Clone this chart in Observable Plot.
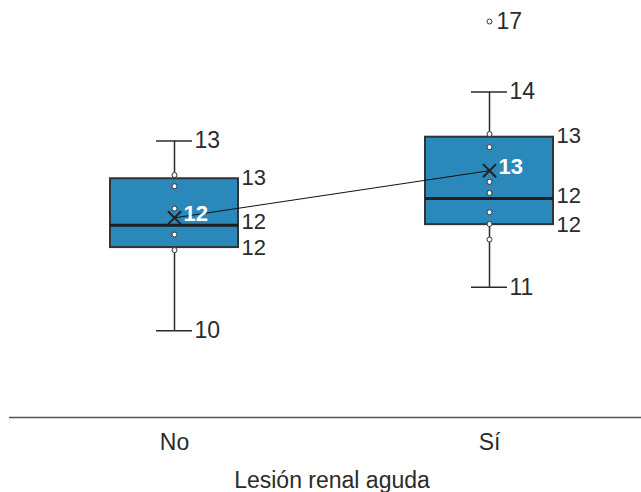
<!DOCTYPE html>
<html>
<head>
<meta charset="utf-8">
<script src="https://cdn.jsdelivr.net/npm/d3@7"></script>
<script src="https://cdn.jsdelivr.net/npm/@observablehq/plot@0.6"></script>
<style>
  html, body { margin: 0; padding: 0; background: #fff; }
  svg { display: block; }
</style>
</head>
<body>
<div id="chart"></div>
<script>
// Categories
const categories = ["No", "Sí"];
// Box statistics per category
const whiskerLow  = [10.24, 10.94];
const q1          = [11.58, 11.95];
const median      = [11.94, 12.37];
const q3          = [12.69, 13.36];
const whiskerHigh = [13.30, 14.09];
const means       = [12.06, 12.82];
// Individual points shown along each box
const pointsNo = [12.75, 12.57, 12.21, 11.79, 11.54];
const pointsSi = [13.41, 13.20, 12.64, 12.46, 12.15, 11.96, 11.71];
// Outliers
const outlierCat = ["Sí"];
const outlierVal = [17];
// Axis title
const xTitle = "Lesión renal aguda";

const boxes = categories.map((c, i) => ({
  cat: c, lo: whiskerLow[i], q1: q1[i], med: median[i], q3: q3[i], hi: whiskerHigh[i], mean: means[i]
}));
const points = [
  ...pointsNo.map(v => ({cat: "No", v})),
  ...pointsSi.map(v => ({cat: "Sí", v}))
];
const outliers = outlierCat.map((c, i) => ({cat: c, v: outlierVal[i]}));
const fmt = d3.format(".0f");

const FONT = "Liberation Sans, Arial, Helvetica, sans-serif";
const boxFill = "#2b88ba";
const ink = "#2b2b2b";

const plot = Plot.plot({
  width: 641,
  height: 492,
  marginLeft: 9,
  marginRight: 0,
  marginTop: 0,
  marginBottom: 75,
  style: {fontFamily: FONT, background: "#fff", color: ink},
  x: {type: "band", domain: categories, range: [110, 553], paddingInner: 0.5937, paddingOuter: 0, label: null},
  y: {type: "linear", domain: [8.84, 15, 17], range: [417, 35, 21], axis: null},
  marks: [
    // axis baseline
    Plot.ruleY([0], {y: () => 8.84, stroke: "#555", strokeWidth: 1.5}),
    // whiskers
    Plot.ruleX(boxes, {x: "cat", y1: "q3", y2: "hi", stroke: ink, strokeWidth: 1.5}),
    Plot.ruleX(boxes, {x: "cat", y1: "lo", y2: "q1", stroke: ink, strokeWidth: 1.5}),
    Plot.tickY(boxes, {x: "cat", y: "hi", stroke: ink, strokeWidth: 1.5, insetLeft: 46, insetRight: 46}),
    Plot.tickY(boxes, {x: "cat", y: "lo", stroke: ink, strokeWidth: 1.5, insetLeft: 46, insetRight: 46}),
    // boxes
    Plot.barY(boxes, {x: "cat", y1: "q1", y2: "q3", fill: boxFill, stroke: "#333", strokeWidth: 2}),
    Plot.tickY(boxes, {x: "cat", y: "med", stroke: "#1e1e1e", strokeWidth: 3}),
    // points
    Plot.dot(points, {x: "cat", y: "v", r: 2.5, fill: "white", stroke: "#333", strokeWidth: 1}),
    Plot.dot(outliers, {x: "cat", y: "v", r: 2.5, fill: "white", stroke: "#333", strokeWidth: 1}),
    // mean line and markers
    Plot.line(boxes, {x: "cat", y: "mean", stroke: "#111", strokeWidth: 1}),
    Plot.dot(boxes, {x: "cat", y: "mean", symbol: "times", r: 6, stroke: "#222", strokeWidth: 2}),
    Plot.text(boxes, {x: "cat", y: "mean", text: d => fmt(d.mean), dx: 9, dy: -4, textAnchor: "start", fill: "white", fontWeight: "bold", fontSize: 22}),
    // value labels
    Plot.text(boxes, {x: "cat", y: "q3", text: d => fmt(d.q3), dx: 67, dy: -1, textAnchor: "start", fontSize: 22, fill: ink}),
    Plot.text(boxes, {x: "cat", y: "med", text: d => fmt(d.med), dx: 67, dy: -3, textAnchor: "start", fontSize: 22, fill: ink}),
    Plot.text(boxes, {x: "cat", y: "q1", text: d => fmt(d.q1), dx: 67, dy: 0, textAnchor: "start", fontSize: 22, fill: ink}),
    Plot.text(boxes, {x: "cat", y: "hi", text: d => fmt(d.hi), dx: 20, textAnchor: "start", fontSize: 23, fill: ink}),
    Plot.text(boxes, {x: "cat", y: "lo", text: d => fmt(d.lo), dx: 20, textAnchor: "start", fontSize: 23, fill: ink}),
    Plot.text(outliers, {x: "cat", y: "v", text: d => fmt(d.v), dx: 7, textAnchor: "start", fontSize: 23, fill: ink}),
    // x axis
    Plot.axisX({tickSize: 0, tickPadding: 16, fontSize: 23, label: null, fill: ink}),
    Plot.text([xTitle], {frameAnchor: "bottom", text: d => d, dx: 6.5, dy: 70, lineAnchor: "bottom", fontSize: 23, fill: ink})
  ]
});
document.getElementById("chart").appendChild(plot);
</script>
</body>
</html>
